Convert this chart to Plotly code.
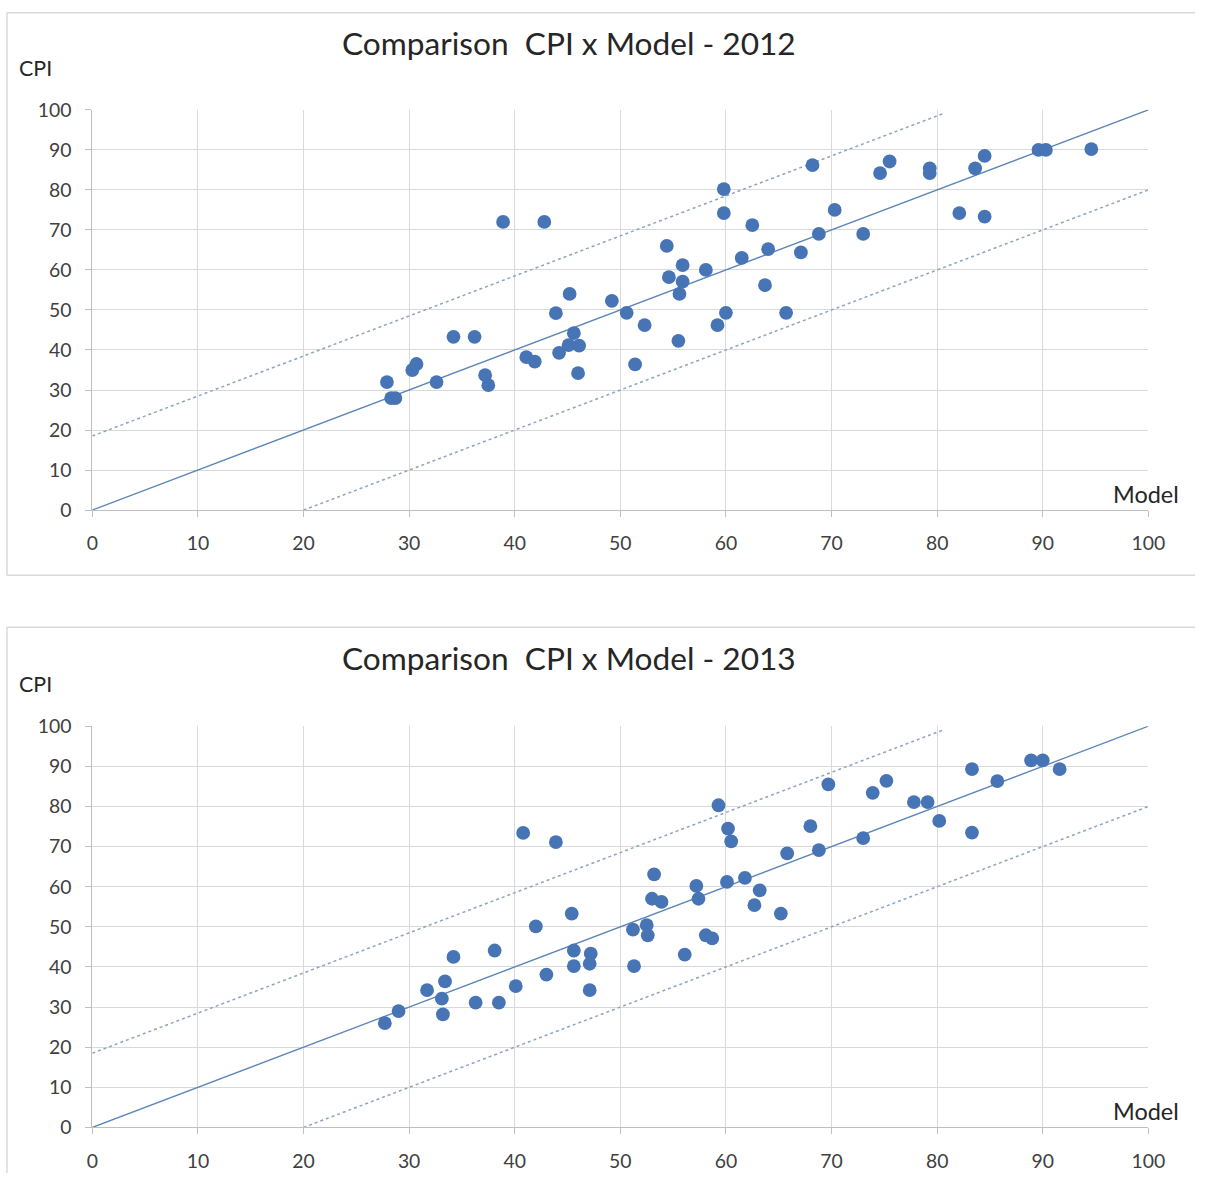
import plotly.graph_objects as go

# ---- data ----
model_2012 = [27.9, 28.3, 28.7, 30.3, 30.7, 32.6, 34.2, 36.2, 37.2, 37.5, 38.9, 41.1, 41.9, 42.8,
              43.9, 44.2, 45.2, 45.6, 45.1, 46.1, 46.0, 49.2, 50.6, 52.3, 51.4, 54.4, 54.6, 55.9,
              55.9, 55.6, 55.5, 58.1, 59.8, 59.8, 60.0, 59.2, 61.5, 62.5, 64.0, 63.7, 67.1, 68.8,
              70.3, 73.0, 65.7, 68.2, 74.6, 75.5, 79.3, 79.3, 82.1, 83.6, 84.5, 84.5, 89.6, 90.3, 94.6]
cpi_2012 = [32, 28, 28, 35, 36.5, 32, 43.3, 43.3, 33.7, 31.2, 72, 38.2, 37.1, 72,
            49.2, 39.3, 54, 44.2, 41.2, 41.1, 34.2, 52.3, 49.3, 46.2, 36.4, 66, 58.2, 61.2,
            57.1, 54, 42.3, 60, 80.2, 74.2, 49.3, 46.2, 63, 71.2, 65.2, 56.2, 64.4, 69,
            75, 69, 49.3, 86.2, 84.2, 87.1, 85.4, 84.2, 74.2, 85.4, 88.5, 73.3, 90, 90, 90.2]

model_2013 = [27.7, 29.0, 31.7, 33.1, 33.4, 33.2, 34.2, 36.3, 38.1, 38.5, 40.1, 40.8, 42.0, 43.0,
              43.9, 45.4, 45.6, 45.6, 47.2, 47.1, 47.1, 51.2, 51.3, 52.5, 52.6, 53.2, 53.0, 53.9,
              56.1, 57.2, 57.4, 58.1, 58.7, 59.3, 60.2, 60.5, 60.1, 61.8, 62.7, 63.2, 65.8, 65.2,
              68.0, 68.8, 69.7, 73.0, 73.9, 75.2, 77.8, 79.1, 80.2, 83.3, 83.3, 85.7, 88.9, 90.0, 91.6]
cpi_2013 = [26.0, 29.0, 34.2, 32.1, 36.4, 28.2, 42.5, 31.1, 44.1, 31.1, 35.2, 73.4, 50.1, 38.1,
            71.1, 53.3, 44.1, 40.2, 43.3, 40.8, 34.2, 49.3, 40.2, 50.4, 47.9, 63.1, 57.0, 56.2,
            43.1, 60.2, 57.0, 47.9, 47.1, 80.3, 74.5, 71.3, 61.2, 62.2, 55.4, 59.1, 68.3, 53.3,
            75.1, 69.1, 85.5, 72.1, 83.4, 86.4, 81.1, 81.1, 76.4, 89.3, 73.5, 86.3, 91.5, 91.5, 89.3]

diag_x = [0, 100]
diag_y = [0, 100]
upper_x = [0, 80.5]
upper_y = [18.5, 99]
lower_x = [20, 100]
lower_y = [0, 80]

ticks = [0, 10, 20, 30, 40, 50, 60, 70, 80, 90, 100]
titles = ["Comparison  CPI x Model - 2012", "Comparison  CPI x Model - 2013"]

W, H = 1212, 1184
FONT = "Lato"
DOT = "#4674B4"
LINE = "#5B84B8"
DOTLINE = "#8FA3BC"
BOX = "#D9D9D9"

# screen-to-figure compensation (observed render mapping)
SX, OX = 0.981, 5.7
SY, OY = 0.980, 12.2


def fx(px):
    return max(0.0, min(W, (px - OX) / SX))


def fy(py):
    return max(0.0, min(H, (py - OY) / SY))


def px_x(px):
    return fx(px) / W


def px_y(py):
    return 1 - fy(py) / H


K = 1 / SY  # font/marker enlargement

fig = go.Figure()

panels = [
    dict(model=model_2012, cpi=cpi_2012, top=110, bottom=510, ax="", title=titles[0],
         title_y=43, cpi_y=68, box_top=12, box_bottom=575),
    dict(model=model_2013, cpi=cpi_2013, top=726, bottom=1127, ax="2", title=titles[1],
         title_y=658, cpi_y=684, box_top=627, box_bottom=None),
]

x_dom = [px_x(92), px_x(1148)]

for p in panels:
    xa = "x" + p["ax"]
    ya = "y" + p["ax"]
    fig.add_trace(go.Scatter(x=upper_x, y=upper_y, mode="lines",
                             line=dict(color=DOTLINE, width=1.5, dash="dot"),
                             xaxis=xa, yaxis=ya, showlegend=False, hoverinfo="skip"))
    fig.add_trace(go.Scatter(x=lower_x, y=lower_y, mode="lines",
                             line=dict(color=DOTLINE, width=1.5, dash="dot"),
                             xaxis=xa, yaxis=ya, showlegend=False, hoverinfo="skip"))
    fig.add_trace(go.Scatter(x=diag_x, y=diag_y, mode="lines",
                             line=dict(color=LINE, width=1.3),
                             xaxis=xa, yaxis=ya, showlegend=False, hoverinfo="skip"))
    fig.add_trace(go.Scatter(x=p["model"], y=p["cpi"], mode="markers",
                             marker=dict(color=DOT, size=13.5 * K),
                             xaxis=xa, yaxis=ya, showlegend=False, cliponaxis=False))

    y_dom = [px_y(p["bottom"]), px_y(p["top"])]
    axis_common = dict(range=[0, 100], tickvals=ticks, showgrid=True, gridcolor="#D9D9D9",
                       gridwidth=1, showline=True, linecolor="#BFBFBF", linewidth=1,
                       ticks="outside", ticklen=6, tickcolor="#BFBFBF", zeroline=False,
                       tickfont=dict(family=FONT, size=19 * K, color="#404040"),
                       ticklabelstandoff=10, fixedrange=True)
    fig.update_layout(**{
        "xaxis" + p["ax"]: dict(domain=x_dom, anchor=ya, **axis_common),
        "yaxis" + p["ax"]: dict(domain=y_dom, anchor=xa, **axis_common),
    })

    # chart frame (right side and the lower chart's bottom are cut off in the original)
    bt = max(0.001, px_y(p["box_top"]))
    bt = min(bt, 0.9994)
    bb = px_y(p["box_bottom"]) if p["box_bottom"] is not None else 0.0
    lx = max(px_x(6), 0.0008)
    fig.add_shape(type="line", xref="paper", yref="paper", x0=lx, x1=1, y0=bt, y1=bt,
                  line=dict(color=BOX, width=1.5), layer="below")
    fig.add_shape(type="line", xref="paper", yref="paper", x0=lx, x1=lx, y0=bb, y1=bt,
                  line=dict(color=BOX, width=1.5), layer="below")
    if p["box_bottom"] is not None:
        fig.add_shape(type="line", xref="paper", yref="paper", x0=lx, x1=1, y0=bb, y1=bb,
                      line=dict(color=BOX, width=1.5), layer="below")

    fig.add_annotation(text=p["title"], xref="paper", yref="paper", x=px_x(569), y=px_y(p["title_y"]),
                       xanchor="center", yanchor="middle", showarrow=False,
                       font=dict(family=FONT, size=31 * K, color="#262626"))
    fig.add_annotation(text="CPI", xref="paper", yref="paper", x=px_x(35), y=px_y(p["cpi_y"]),
                       xanchor="center", yanchor="middle", showarrow=False,
                       font=dict(family=FONT, size=21 * K, color="#262626"))
    fig.add_annotation(text="Model", xref="paper", yref="paper", x=px_x(1181),
                       y=px_y(p["bottom"] - 16),
                       xanchor="right", yanchor="middle", showarrow=False,
                       font=dict(family=FONT, size=23 * K, color="#262626"))

fig.update_layout(width=W, height=H, margin=dict(l=0, r=0, t=0, b=0),
                  paper_bgcolor="white", plot_bgcolor="white", showlegend=False)

fig.write_html("out.html")
